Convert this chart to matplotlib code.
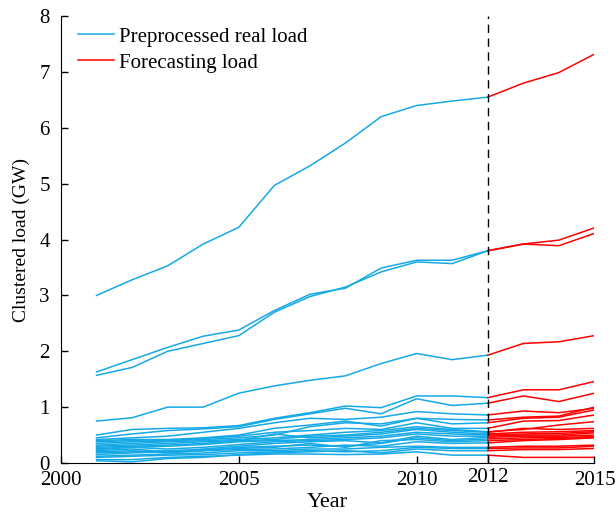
import matplotlib
matplotlib.use('Agg')
import matplotlib.pyplot as plt
import matplotlib.transforms as mtransforms

plt.rcParams['font.family'] = ['Liberation Serif', 'DejaVu Serif']

# years of the real (preprocessed) load and of the forecast
realYears = [2001, 2002, 2003, 2004, 2005, 2006, 2007, 2008, 2009, 2010, 2011, 2012]
forecastYears = [2012, 2013, 2014, 2015]

# clustered load per cluster, GW, 2001..2012
realLoad = [
    [3.00, 3.28, 3.53, 3.92, 4.22, 4.97, 5.32, 5.73, 6.20, 6.40, 6.48, 6.55],
    [1.63, 1.85, 2.07, 2.27, 2.38, 2.73, 3.02, 3.13, 3.49, 3.63, 3.63, 3.80],
    [1.57, 1.71, 2.00, 2.14, 2.28, 2.70, 2.98, 3.15, 3.42, 3.60, 3.57, 3.80],
    [0.75, 0.81, 1.00, 1.00, 1.25, 1.38, 1.48, 1.56, 1.78, 1.96, 1.85, 1.93],
    [0.50, 0.60, 0.62, 0.63, 0.67, 0.80, 0.90, 1.02, 0.99, 1.20, 1.20, 1.17],
    [0.45, 0.52, 0.58, 0.61, 0.65, 0.78, 0.88, 0.98, 0.88, 1.15, 1.03, 1.07],
    [0.42, 0.45, 0.48, 0.55, 0.62, 0.72, 0.80, 0.78, 0.82, 0.92, 0.88, 0.86],
    [0.40, 0.42, 0.42, 0.45, 0.50, 0.62, 0.68, 0.75, 0.66, 0.80, 0.78, 0.77],
    [0.38, 0.40, 0.40, 0.42, 0.45, 0.50, 0.65, 0.72, 0.70, 0.80, 0.70, 0.72],
    [0.35, 0.38, 0.40, 0.44, 0.48, 0.55, 0.58, 0.62, 0.60, 0.72, 0.62, 0.62],
    [0.32, 0.35, 0.38, 0.40, 0.42, 0.45, 0.50, 0.55, 0.58, 0.65, 0.60, 0.56],
    [0.30, 0.32, 0.35, 0.38, 0.40, 0.42, 0.48, 0.50, 0.55, 0.62, 0.58, 0.55],
    [0.28, 0.30, 0.32, 0.35, 0.40, 0.52, 0.45, 0.48, 0.52, 0.60, 0.55, 0.52],
    [0.26, 0.28, 0.30, 0.33, 0.38, 0.40, 0.42, 0.45, 0.48, 0.55, 0.52, 0.50],
    [0.24, 0.28, 0.25, 0.28, 0.33, 0.38, 0.40, 0.42, 0.45, 0.52, 0.48, 0.48],
    [0.22, 0.25, 0.20, 0.25, 0.30, 0.35, 0.38, 0.40, 0.36, 0.48, 0.42, 0.46],
    [0.20, 0.22, 0.18, 0.22, 0.28, 0.30, 0.32, 0.30, 0.35, 0.45, 0.40, 0.43],
    [0.18, 0.20, 0.22, 0.24, 0.26, 0.28, 0.35, 0.28, 0.40, 0.42, 0.38, 0.40],
    [0.15, 0.18, 0.20, 0.22, 0.24, 0.25, 0.28, 0.32, 0.30, 0.38, 0.35, 0.36],
    [0.12, 0.14, 0.16, 0.18, 0.22, 0.22, 0.25, 0.25, 0.28, 0.30, 0.28, 0.28],
    [0.10, 0.12, 0.14, 0.15, 0.18, 0.20, 0.22, 0.20, 0.22, 0.28, 0.26, 0.26],
    [0.06, 0.06, 0.10, 0.12, 0.14, 0.16, 0.16, 0.15, 0.16, 0.20, 0.14, 0.14],
    [0.04, 0.02, 0.08, 0.10, 0.15, 0.18, 0.20, 0.22, 0.18, 0.25, 0.22, 0.22],
]

# forecast per cluster, GW, 2013..2015 (2012 taken from the real load)
forecastLoad = [
    [6.80, 6.99, 7.32],
    [3.92, 3.99, 4.21],
    [3.92, 3.89, 4.11],
    [2.14, 2.17, 2.28],
    [1.31, 1.31, 1.46],
    [1.20, 1.10, 1.25],
    [0.93, 0.90, 0.98],
    [0.82, 0.84, 1.00],
    [0.80, 0.82, 0.95],
    [0.75, 0.76, 0.86],
    [0.60, 0.68, 0.74],
    [0.62, 0.60, 0.62],
    [0.55, 0.56, 0.58],
    [0.52, 0.53, 0.56],
    [0.50, 0.50, 0.54],
    [0.48, 0.48, 0.50],
    [0.45, 0.46, 0.47],
    [0.42, 0.44, 0.46],
    [0.40, 0.42, 0.45],
    [0.30, 0.30, 0.32],
    [0.27, 0.27, 0.30],
    [0.10, 0.10, 0.10],
    [0.24, 0.24, 0.26],
]

xTicks = [2000, 2005, 2010, 2012, 2015]
yTicks = [0, 1, 2, 3, 4, 5, 6, 7, 8]

blue = '#14A9E6'


def plot():

    fig = plt.figure(figsize=(6.16, 5.13), dpi=100)
    ax = fig.add_axes([0.099, 0.0975, 0.866, 0.871])

    for i in range(len(realLoad)):
        real = realLoad[i]
        fc = [real[-1]] + forecastLoad[i]

        ax.plot(realYears, real, color=blue, lw=1.1,
                label='Preprocessed real load' if i == 0 else None)
        ax.plot(forecastYears, fc, color='red', lw=1.1,
                label='Forecasting load' if i == 0 else None)

    ax.axvline(2012, color='black', lw=1.0, ls=(0, (6, 4)))

    ax.set_xlim(2000, 2015)
    ax.set_ylim(0, 8)
    ax.set_xticks(xTicks)
    ax.set_yticks(yTicks)
    ax.tick_params(direction='in', labelsize=15, length=5, width=1)
    ax.tick_params(axis='x', pad=6)
    ax.tick_params(axis='y', pad=8)

    # the 2012 label sits a bit higher than the others
    lab2012 = ax.get_xticklabels()[3]
    lab2012.set_transform(lab2012.get_transform() +
                          mtransforms.ScaledTranslation(0, 2.5 / 72, fig.dpi_scale_trans))

    for s in ['top', 'right']:
        ax.spines[s].set_visible(False)

    ax.set_xlabel('Year', fontsize=16, labelpad=2)
    ax.set_ylabel('Clustered load (GW)', fontsize=14, labelpad=7)

    ax.legend(loc='upper left', frameon=False, fontsize=15, handlelength=1.75,
              borderaxespad=0.3, handletextpad=0.25, labelspacing=0.3,
              bbox_to_anchor=(0.004, 1.008))

    fig.savefig('out.png', dpi=100)


plot()
